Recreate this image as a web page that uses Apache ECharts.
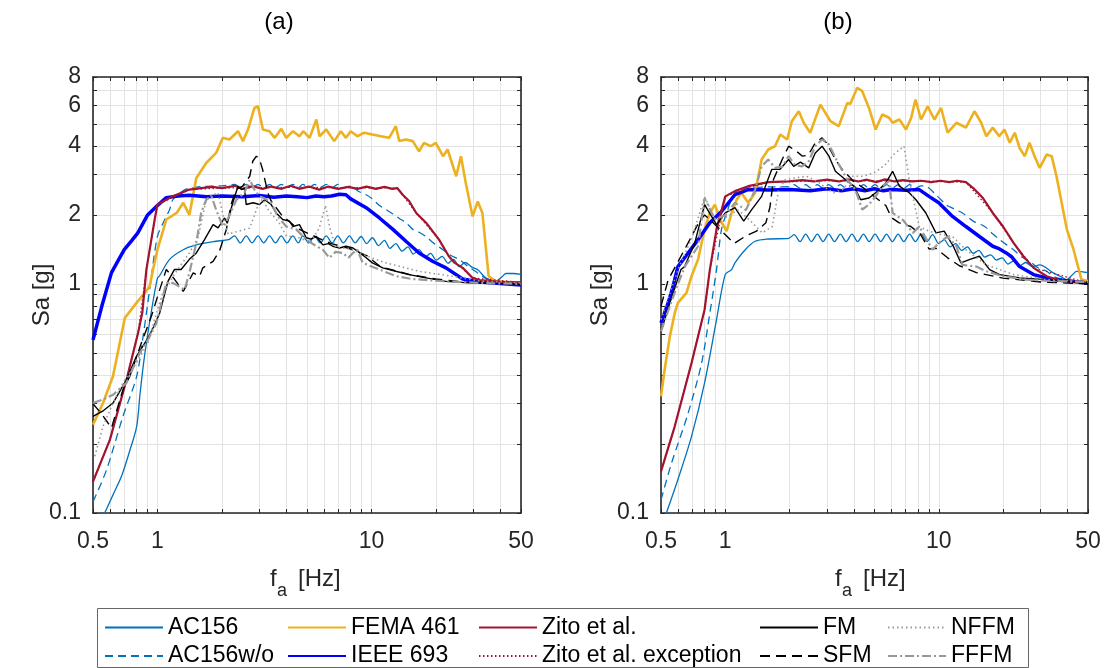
<!DOCTYPE html>
<html><head><meta charset="utf-8">
<script src="https://cdn.jsdelivr.net/npm/echarts@6/dist/echarts.min.js"></script>
<style>html,body{margin:0;padding:0;background:#fff}#c{width:1106px;height:668px}</style>
</head><body><div id="c"></div>
<script>
// ---------- ticks ----------
const xTickValues = [0.5, 1, 10, 50];
const xTickLabels = ['0.5', '1', '10', '50'];
const xMinorValues = [0.6, 0.7, 0.8, 0.9, 2, 3, 4, 5, 6, 7, 8, 9, 20, 30, 40];
const yTickValues = [0.1, 1, 2, 4, 6, 8];
const yTickLabels = ['0.1', '1', '2', '4', '6', '8'];
const yMinorValues = [0.2, 0.3, 0.4, 0.5, 0.6, 0.7, 0.8, 0.9, 3, 5, 7];
const panelTitles = ['(a)', '(b)'];
const seriesNames = ['AC156', 'AC156w/o', 'FEMA 461', 'IEEE 693', 'Zito et al.', 'Zito et al. exception', 'FM', 'SFM', 'NFFM', 'FFFM'];

// ---------- panel (a) data: [frequency Hz, Sa g] ----------
const ac156A = [[0.567,0.1],[0.62,0.12],[0.68,0.145],[0.74,0.185],[0.80,0.239],[0.83,0.334],[0.87,0.483],[0.94,0.773],[1.0,1.06],[1.02,1.08],[1.14,1.28],[1.32,1.41],[1.52,1.48],[1.88,1.535],[2.15,1.56],[2.29,1.62],[2.44,1.51],[2.60,1.62],[2.77,1.51],[2.95,1.62],[3.14,1.51],[3.34,1.62],[3.56,1.51],[3.79,1.62],[4.03,1.51],[4.29,1.62],[4.55,1.51],[4.78,1.62],[5.1,1.51],[5.42,1.62],[5.77,1.51],[6.15,1.62],[6.55,1.51],[6.96,1.62],[7.4,1.51],[7.89,1.62],[8.4,1.51],[8.95,1.61],[9.5,1.50],[10.1,1.59],[10.8,1.47],[11.5,1.55],[12.2,1.43],[13.0,1.50],[13.9,1.39],[14.8,1.45],[15.7,1.35],[16.7,1.41],[17.8,1.31],[18.9,1.36],[20.1,1.27],[21.4,1.32],[22.8,1.23],[24.2,1.28],[25.7,1.19],[27.4,1.24],[29.6,1.18],[31.5,1.15],[34.3,1.06],[38.1,1.027],[41,1.08],[42.5,1.11],[46,1.11],[50,1.10]];
const ac156woA = [[0.5,0.112],[0.578,0.154],[0.69,0.264],[0.80,0.395],[0.857,0.59],[0.92,0.944],[1.0,1.61],[1.08,1.9],[1.14,2.11],[1.18,2.33],[1.28,2.5],[1.37,2.6],[1.6,2.66],[2.0,2.68],[2.3,2.72],[2.44,2.63],[2.6,2.72],[2.77,2.63],[2.95,2.72],[3.14,2.63],[3.34,2.72],[3.56,2.63],[3.79,2.72],[4.03,2.63],[4.29,2.72],[4.55,2.63],[4.78,2.72],[5.1,2.63],[5.42,2.72],[5.77,2.63],[6.15,2.72],[6.55,2.63],[6.96,2.72],[7.4,2.63],[8.15,2.68],[8.6,2.55],[9.45,2.45],[10.1,2.35],[10.9,2.2],[11.7,2.11],[12.6,2.02],[13.5,1.93],[14.5,1.85],[15.6,1.73],[16.7,1.68],[18.0,1.61],[19.3,1.52],[20.5,1.46],[21.6,1.41],[23.5,1.33],[25.7,1.28],[28,1.2],[30.6,1.135],[34,1.06],[38,1.03],[50,1.01]];
const femaA = [[0.5,0.243],[0.557,0.302],[0.62,0.395],[0.704,0.71],[0.798,0.826],[0.87,0.91],[0.92,0.976],[0.954,1.155],[1.0,1.41],[1.10,1.91],[1.23,2.04],[1.32,2.26],[1.41,2.0],[1.52,2.9],[1.69,3.37],[1.88,3.73],[2.02,4.34],[2.17,4.27],[2.38,4.64],[2.51,4.2],[2.65,4.72],[2.84,5.86],[2.95,5.96],[3.11,4.72],[3.34,4.64],[3.53,4.34],[3.79,4.75],[4.0,4.34],[4.3,4.64],[4.61,4.41],[4.8,4.64],[5.14,4.34],[5.53,5.22],[5.72,4.41],[6.15,4.72],[6.7,4.2],[7.2,4.64],[7.6,4.34],[8.0,4.64],[8.6,4.41],[9.25,4.57],[10.1,4.49],[11.1,4.41],[12.1,4.34],[13.0,4.88],[13.5,4.2],[14.5,4.27],[15.6,4.2],[16.7,3.79],[17.6,4.13],[18.9,3.99],[20.0,4.13],[21.6,3.61],[22.7,3.86],[24.9,2.95],[26.2,3.61],[27.6,2.76],[29.7,1.97],[31.4,2.29],[33.0,2.04],[35.3,1.08],[38.1,1.026],[49,1.01],[50,1.01]];
const ieeeA = [[0.5,0.57],[0.55,0.8],[0.61,1.12],[0.66,1.28],[0.70,1.41],[0.76,1.55],[0.81,1.67],[0.86,1.85],[0.90,2.0],[1.0,2.2],[1.10,2.38],[1.25,2.42],[1.41,2.44],[1.7,2.4],[2.0,2.42],[2.5,2.40],[3.0,2.43],[3.5,2.39],[4.0,2.42],[4.5,2.40],[5.0,2.38],[5.5,2.42],[6.0,2.40],[6.5,2.42],[7.1,2.46],[7.6,2.45],[8.0,2.35],[9.45,2.15],[10.9,1.94],[12.6,1.73],[14.5,1.535],[16.7,1.365],[19.3,1.255],[22.3,1.175],[26.7,1.05],[32,1.02],[50,0.99]];
const zitoA = [[0.5,0.137],[0.6,0.209],[0.717,0.382],[0.812,0.611],[0.85,0.75],[0.888,1.155],[0.93,1.5],[0.97,1.9],[1.0,2.22],[1.18,2.41],[1.41,2.58],[1.6,2.62],[1.8,2.65],[2.0,2.62],[2.3,2.68],[2.5,2.6],[2.8,2.67],[3.1,2.6],[3.4,2.66],[3.8,2.6],[4.2,2.68],[4.6,2.6],[5.1,2.66],[5.7,2.58],[6.3,2.66],[7.0,2.6],[7.8,2.65],[8.6,2.6],[9.5,2.66],[10.5,2.6],[11.5,2.65],[12.5,2.6],[13.2,2.62],[14,2.45],[15.0,2.3],[16.2,2.04],[18,1.85],[20.7,1.56],[23,1.32],[24.5,1.235],[26.7,1.175],[29.7,1.062],[32,1.04],[40,1.02],[50,1.016]];
const zitoExA = [[0.5,0.137],[0.6,0.209],[0.717,0.382],[0.812,0.611],[0.888,1.155],[1.0,2.22],[1.41,2.58],[2.0,2.62],[4.0,2.64],[8.0,2.63],[13.2,2.62],[16.2,2.04],[20.7,1.56],[23,1.32],[29.7,1.062],[50,1.016]];
const fmA = [[0.5,0.264],[0.56,0.28],[0.62,0.302],[0.717,0.382],[0.798,0.483],[0.904,0.581],[0.96,0.65],[1.025,0.747],[1.08,0.9],[1.12,1.026],[1.20,1.155],[1.29,1.155],[1.41,1.28],[1.52,1.365],[1.66,1.56],[1.82,1.815],[1.92,1.756],[2.06,1.94],[2.12,1.84],[2.25,2.26],[2.38,2.67],[2.47,2.58],[2.55,2.62],[2.6,2.22],[2.8,2.26],[3.0,2.22],[3.17,2.33],[3.4,2.22],[3.59,2.04],[3.85,1.91],[4.14,1.88],[4.3,1.78],[4.61,1.815],[4.96,1.59],[5.2,1.57],[5.53,1.61],[5.93,1.48],[6.3,1.50],[6.6,1.46],[7.1,1.435],[7.6,1.46],[8.2,1.435],[8.7,1.38],[9.45,1.30],[10.1,1.235],[11.3,1.175],[13.0,1.135],[15.0,1.098],[18.0,1.062],[22.3,1.026],[28.6,1.01],[50,1.0]];
const sfmA = [[0.5,0.30],[0.55,0.27],[0.61,0.235],[0.69,0.345],[0.743,0.395],[0.842,0.553],[0.937,0.722],[1.025,0.944],[1.10,1.155],[1.2,1.05],[1.32,0.928],[1.47,1.117],[1.575,1.08],[1.63,1.175],[1.82,1.255],[1.95,1.39],[2.1,1.73],[2.21,2.22],[2.33,2.58],[2.5,2.67],[2.70,2.95],[2.79,3.43],[2.9,3.61],[3.0,3.5],[3.1,3.16],[3.28,2.5],[3.4,2.3],[3.8,2.0],[4.5,1.75],[5.5,1.6],[6.5,1.5],[8.0,1.42],[9.5,1.33],[11.0,1.19],[13.0,1.14],[15.0,1.10],[20.0,1.05],[30,1.01],[50,1.0]];
const nffmA = [[0.51,0.177],[0.557,0.239],[0.62,0.302],[0.69,0.37],[0.798,0.452],[0.904,0.553],[0.99,0.747],[1.06,0.913],[1.2,1.1],[1.41,1.365],[1.55,1.6],[1.69,2.33],[1.75,2.41],[1.92,2.5],[2.05,1.9],[2.14,1.65],[2.4,1.7],[2.7,1.75],[2.95,2.2],[3.1,2.35],[3.3,2.1],[3.7,1.85],[4.0,1.62],[4.5,1.6],[5.2,1.52],[5.7,1.75],[6.1,2.2],[6.4,1.75],[6.8,1.45],[8.0,1.42],[10,1.3],[11.7,1.235],[16.7,1.135],[23.9,1.08],[32,1.03],[50,1.01]];
const fffmA = [[0.5,0.302],[0.557,0.313],[0.62,0.328],[0.717,0.37],[0.827,0.50],[0.904,0.571],[0.99,0.675],[1.10,1.01],[1.18,1.01],[1.34,0.944],[1.41,1.117],[1.52,1.51],[1.60,2.04],[1.69,2.33],[1.79,2.41],[1.88,2.11],[2.02,1.78],[2.15,1.95],[2.34,2.33],[2.55,2.5],[2.70,2.85],[2.84,2.58],[3.0,2.41],[3.2,2.35],[3.4,2.26],[3.65,1.97],[4.0,1.78],[4.45,1.73],[4.96,1.56],[5.53,1.46],[5.93,1.41],[6.36,1.30],[6.8,1.38],[7.35,1.365],[7.8,1.30],[8.2,1.365],[8.6,1.41],[9.1,1.235],[10.9,1.155],[13.1,1.08],[15.5,1.05],[22.3,1.026],[32,1.01],[50,1.0]];

// ---------- panel (b) data ----------
const ac156B = [[0.53,0.1],[0.60,0.14],[0.695,0.216],[0.80,0.37],[0.91,0.698],[1.0,1.1],[1.07,1.155],[1.11,1.235],[1.24,1.41],[1.38,1.535],[1.59,1.57],[1.98,1.58],[2.1,1.64],[2.24,1.53],[2.38,1.65],[2.53,1.53],[2.70,1.65],[2.87,1.53],[3.05,1.65],[3.25,1.53],[3.46,1.65],[3.68,1.53],[3.92,1.65],[4.17,1.53],[4.44,1.65],[4.72,1.53],[5.03,1.65],[5.35,1.53],[5.69,1.65],[6.06,1.53],[6.45,1.65],[6.86,1.53],[7.3,1.65],[7.77,1.53],[8.27,1.65],[8.8,1.53],[9.36,1.64],[10.0,1.50],[10.6,1.56],[11.3,1.45],[12.0,1.50],[12.8,1.40],[13.6,1.45],[14.5,1.36],[15.4,1.40],[16.4,1.31],[17.5,1.34],[18.6,1.27],[19.8,1.30],[21.1,1.22],[22.4,1.26],[23.9,1.20],[25.5,1.24],[27.5,1.19],[29.7,1.21],[34.4,1.117],[37,1.08],[39.8,1.044],[42,1.09],[44.2,1.135],[50,1.12]];
const ac156woB = [[0.5,0.114],[0.56,0.165],[0.67,0.273],[0.775,0.452],[0.847,0.747],[0.91,1.155],[0.96,1.73],[1.015,2.04],[1.11,2.5],[1.28,2.62],[1.6,2.65],[2.0,2.66],[2.1,2.71],[2.24,2.62],[2.38,2.71],[2.53,2.62],[2.70,2.71],[2.87,2.62],[3.05,2.71],[3.25,2.62],[3.46,2.71],[3.68,2.62],[3.92,2.71],[4.17,2.62],[4.44,2.71],[4.72,2.62],[5.03,2.71],[5.35,2.62],[5.69,2.71],[6.06,2.62],[6.45,2.71],[6.86,2.62],[7.3,2.71],[7.77,2.62],[8.27,2.68],[8.7,2.67],[9.7,2.45],[10.8,2.22],[11.6,2.14],[12.9,2.04],[14.5,1.88],[16.4,1.78],[17.8,1.66],[19.3,1.56],[20.8,1.48],[22.4,1.41],[24.5,1.31],[26.7,1.255],[29,1.18],[32,1.135],[35,1.07],[39.8,1.044],[50,1.02]];
const femaB = [[0.5,0.323],[0.52,0.422],[0.55,0.59],[0.58,0.747],[0.60,0.826],[0.658,0.913],[0.695,1.08],[0.746,1.28],[0.80,1.73],[0.847,2.04],[0.894,2.22],[0.944,1.91],[1.015,1.70],[1.07,2.04],[1.13,2.33],[1.19,2.50],[1.28,2.26],[1.38,2.5],[1.48,3.49],[1.59,3.86],[1.71,3.99],[1.81,4.49],[1.95,4.27],[2.05,5.13],[2.21,5.67],[2.33,5.05],[2.5,4.57],[2.79,6.06],[3.11,5.13],[3.40,4.88],[3.73,6.17],[3.85,6.1],[4.15,7.18],[4.38,6.94],[4.71,5.86],[5.06,4.72],[5.44,5.49],[5.85,5.31],[6.08,5.05],[6.54,5.22],[7.02,4.72],[7.43,5.31],[7.78,6.38],[8.26,5.22],[8.87,5.96],[9.54,5.22],[10.25,5.86],[11.0,4.57],[12.1,5.05],[13.4,4.81],[14.7,5.67],[15.8,5.05],[16.7,4.41],[17.9,4.81],[19.2,4.41],[20.3,4.72],[21.5,4.13],[22.7,4.57],[23.9,3.92],[25.3,3.61],[26.6,4.13],[28.1,3.61],[29.7,3.21],[32,3.67],[33.8,3.61],[35.6,2.95],[39.8,1.73],[42.8,1.41],[46.6,1.044],[50,1.03]];
const ieeeB = [[0.5,0.676],[0.54,0.826],[0.57,0.98],[0.60,1.19],[0.67,1.365],[0.746,1.56],[0.847,1.85],[0.96,2.07],[1.11,2.45],[1.28,2.58],[1.6,2.57],[2.0,2.58],[2.5,2.55],[3.0,2.6],[3.5,2.55],[4.0,2.6],[4.5,2.55],[5.0,2.6],[5.5,2.55],[6.0,2.58],[7.0,2.56],[8.1,2.58],[9.0,2.41],[10.0,2.26],[11.6,1.97],[13.4,1.78],[15.5,1.61],[17.9,1.46],[19.0,1.43],[20.7,1.365],[22.0,1.31],[23.9,1.19],[27.8,1.098],[34.4,1.044],[50,1.01]];
const zitoB = [[0.5,0.152],[0.58,0.239],[0.695,0.452],[0.80,0.772],[0.847,1.155],[0.91,1.73],[1.0,2.41],[1.11,2.54],[1.28,2.67],[1.59,2.78],[1.98,2.8],[2.3,2.84],[2.6,2.8],[3.0,2.85],[3.4,2.8],[3.8,2.86],[4.2,2.8],[4.6,2.85],[5.1,2.78],[5.6,2.86],[6.2,2.8],[6.8,2.84],[7.5,2.8],[8.3,2.82],[9.2,2.78],[10.2,2.82],[11.2,2.78],[12.2,2.82],[13.4,2.78],[14.5,2.62],[16.1,2.37],[17.9,2.04],[20,1.78],[22.4,1.51],[24.9,1.32],[27.8,1.175],[32,1.08],[37,1.035],[50,1.01]];
const zitoExB = [[0.5,0.152],[0.58,0.239],[0.695,0.452],[0.80,0.772],[0.847,1.155],[1.0,2.41],[1.59,2.78],[3.0,2.82],[8.0,2.81],[13.4,2.78],[17.9,2.04],[22.4,1.51],[27.8,1.175],[50,1.01]];
const fmB = [[0.5,0.621],[0.55,0.826],[0.62,1.155],[0.645,1.19],[0.72,1.51],[0.80,2.22],[0.91,1.815],[1.0,2.04],[1.11,2.15],[1.22,1.88],[1.33,2.11],[1.48,2.41],[1.65,3.16],[1.8,3.16],[1.98,3.49],[2.09,3.26],[2.25,3.4],[2.46,3.21],[2.64,3.73],[2.84,3.99],[3.06,3.61],[3.28,3.1],[3.66,2.85],[4.0,2.67],[4.31,2.33],[4.71,2.37],[5.06,2.5],[5.65,2.76],[6.08,3.1],[6.54,2.67],[7.27,2.5],[7.82,2.33],[8.7,2.04],[9.7,1.67],[10.6,1.70],[11.7,1.46],[12.7,1.235],[14.0,1.28],[15.5,1.32],[17.3,1.155],[19.3,1.098],[23.9,1.062],[32,1.044],[50,1.01]];
const sfmB = [[0.5,0.8],[0.54,1.04],[0.62,1.32],[0.695,1.61],[0.75,1.85],[0.8,2.0],[0.85,1.9],[0.95,1.72],[1.1,1.5],[1.25,1.62],[1.4,1.70],[1.55,1.85],[1.62,2.17],[1.68,2.85],[1.85,3.5],[1.98,3.99],[2.15,3.8],[2.3,3.61],[2.45,3.65],[2.64,4.13],[2.84,4.34],[3.0,4.1],[3.28,3.49],[3.53,3.16],[4.0,2.8],[4.5,2.6],[5.0,2.4],[5.65,2.2],[6.0,1.95],[6.5,1.85],[7.4,1.78],[8.2,1.65],[9.0,1.42],[9.7,1.43],[11,1.3],[12.5,1.2],[15,1.12],[20,1.06],[30,1.02],[50,1.0]];
const nffmB = [[0.5,0.70],[0.6,1.15],[0.7,1.6],[0.8,2.4],[0.9,1.9],[1.0,1.95],[1.15,2.1],[1.3,1.9],[1.49,1.67],[1.66,1.78],[1.78,2.58],[1.91,2.85],[2.1,2.9],[2.4,2.95],[2.7,2.8],[3.0,2.6],[3.22,2.5],[3.6,2.6],[3.86,2.95],[4.4,2.95],[4.97,3.05],[5.6,3.3],[6.2,3.7],[6.88,3.99],[7.27,2.85],[8.1,1.78],[9.0,1.7],[10,1.65],[11.6,1.61],[13.4,1.41],[16.7,1.21],[22.4,1.098],[32,1.044],[50,1.02]];
const fffmB = [[0.5,0.621],[0.55,0.8],[0.6,1.0],[0.65,1.2],[0.746,1.46],[0.80,2.37],[0.894,1.91],[1.0,2.0],[1.11,2.26],[1.25,2.1],[1.38,2.58],[1.48,3.26],[1.59,3.49],[1.71,3.21],[1.85,3.25],[1.98,3.61],[2.12,3.3],[2.29,3.26],[2.45,3.4],[2.64,3.99],[2.84,4.27],[3.06,4.06],[3.34,3.43],[3.73,2.85],[4.07,2.58],[4.38,2.11],[4.71,2.22],[5.06,2.41],[5.44,2.67],[5.85,2.81],[6.08,2.04],[6.8,1.9],[7.57,1.67],[8.1,1.78],[9.35,1.41],[10.0,1.51],[11.0,1.61],[12.1,1.46],[12.9,1.21],[15.0,1.19],[16.7,1.135],[20,1.08],[25.6,1.044],[33,1.03],[50,1.02]];

const panelData = [
  [ac156A, ac156woA, femaA, ieeeA, zitoA, zitoExA, fmA, sfmA, nffmA, fffmA],
  [ac156B, ac156woB, femaB, ieeeB, zitoB, zitoExB, fmB, sfmB, nffmB, fffmB]
];

// ---------- styling ----------
const FONT = 'Liberation Sans, Arial, Helvetica, sans-serif';
const AX = '#262626';
const GRIDC = '#e3e3e3';
const lineStyles = {
  'AC156': {color:'#0072BD', width:1.3, type:'solid'},
  'AC156w/o': {color:'#0072BD', width:1.3, type:[8,5]},
  'FEMA 461': {color:'#EDB120', width:2.6, type:'solid'},
  'IEEE 693': {color:'#0000FF', width:3.5, type:'solid'},
  'Zito et al.': {color:'#A2142F', width:2.2, type:'solid'},
  'Zito et al. exception': {color:'#A2142F', width:1.3, type:[1.5,2.5]},
  'FM': {color:'#000000', width:1.4, type:'solid'},
  'SFM': {color:'#000000', width:1.4, type:[10,6]},
  'NFFM': {color:'#999999', width:1.6, type:[1.5,3]},
  'FFFM': {color:'#999999', width:2.2, type:[9,3,2,3]}
};
const smoothed = {'AC156':0.3, 'AC156w/o':0.3};
const grids = [
  {left:93, top:77, width:428, height:436},
  {left:661, top:77, width:427, height:436}
];
const L = Math.log10;
function lookup(vals, labels, v){
  for (let i = 0; i < vals.length; i++) if (Math.abs(L(vals[i]) - v) < 1e-6) return labels[i];
  return '';
}
const xAll = xTickValues.concat(xMinorValues).map(L);
const yAll = yTickValues.concat(yMinorValues).map(L);

const xAxes = [], yAxes = [];
grids.forEach((g, gi) => {
  ['bottom','top'].forEach(pos => {
    xAxes.push({
      type:'value', gridIndex:gi, position:pos, min:L(0.5), max:L(50),
      axisLine:{show:true, onZero:false, lineStyle:{color:AX, width:1.6}},
      axisTick:{show:true, inside:true, length:4, customValues:xAll, lineStyle:{color:AX, width:1}},
      axisLabel:{show:pos==='bottom', customValues:xTickValues.map(L), margin:17,
        formatter:v => lookup(xTickValues, xTickLabels, v), fontSize:23, color:AX, fontFamily:FONT},
      splitLine:{show:pos==='bottom', lineStyle:{color:GRIDC, width:1}}
    });
  });
  ['left','right'].forEach(pos => {
    yAxes.push({
      type:'value', gridIndex:gi, position:pos, min:L(0.1), max:L(8),
      axisLine:{show:true, onZero:false, lineStyle:{color:AX, width:1.6}},
      axisTick:{show:true, inside:true, length:4, customValues:yAll, lineStyle:{color:AX, width:1}},
      axisLabel:{show:pos==='left', customValues:yTickValues.map(L), margin:12,
        formatter:v => lookup(yTickValues, yTickLabels, v), fontSize:23, color:AX, fontFamily:FONT},
      splitLine:{show:pos==='left', lineStyle:{color:GRIDC, width:1}}
    });
  });
});

const series = [];
panelData.forEach((arrs, gi) => {
  arrs.forEach((arr, si) => {
    const name = seriesNames[si];
    series.push({
      name, type:'line', xAxisIndex:gi*2, yAxisIndex:gi*2,
      data: arr.map(p => [L(p[0]), L(p[1])]),
      showSymbol:false, symbol:'none', clip:true, silent:true,
      smooth: smoothed[name] || false,
      lineStyle: Object.assign({}, lineStyles[name]),
      itemStyle:{color:lineStyles[name].color},
      z: 2 + si
    });
  });
});

// legend layout: 5 columns x 2 rows
const legendCols = [104, 287, 478, 759, 887];
const legendRows = [616, 644.5];
const legends = seriesNames.map((name, i) => ({
  data:[name], left:legendCols[Math.floor(i/2)], top:legendRows[i%2],
  itemWidth:58, itemHeight:12, padding:0, selectedMode:false,
  itemStyle:{color:'rgba(0,0,0,0)', borderColor:'rgba(0,0,0,0)', borderWidth:0, opacity:0},
  textStyle:{fontSize:23, color:'#000', fontFamily:FONT}
}));

const graphics = [
  {type:'rect', shape:{x:97.5, y:608.5, width:931, height:59}, style:{fill:'#fff', stroke:'#666', lineWidth:1}, z:0},
];
const titleX = [279, 838];
const nameOffsetX = [0, 565];
const sayX = [42, 600];
[0,1].forEach(i => {
  graphics.push({type:'text', x:titleX[i], y:22, style:{text:panelTitles[i], fill:'#000', font:'24px '+FONT, textAlign:'center', textVerticalAlign:'middle'}});
  graphics.push({type:'text', x:sayX[i], y:295, rotation:Math.PI/2, style:{text:'Sa [g]', fill:'#262626', font:'24px '+FONT, textAlign:'center', textVerticalAlign:'middle'}});
  graphics.push({type:'text', x:270+nameOffsetX[i], y:579, style:{text:'f', fill:'#262626', font:'24px '+FONT, textAlign:'left', textVerticalAlign:'middle'}});
  graphics.push({type:'text', x:277+nameOffsetX[i], y:591, style:{text:'a', fill:'#262626', font:'18px '+FONT, textAlign:'left', textVerticalAlign:'middle'}});
  graphics.push({type:'text', x:298+nameOffsetX[i], y:579, style:{text:'[Hz]', fill:'#262626', font:'24px '+FONT, textAlign:'left', textVerticalAlign:'middle'}});
});

const chart = echarts.init(document.getElementById('c'), null, {renderer:'canvas'});
chart.setOption({
  animation:false, backgroundColor:'#fff',
  grid: grids, xAxis: xAxes, yAxis: yAxes, series, legend: legends, graphic: graphics
});
</script></body></html>
